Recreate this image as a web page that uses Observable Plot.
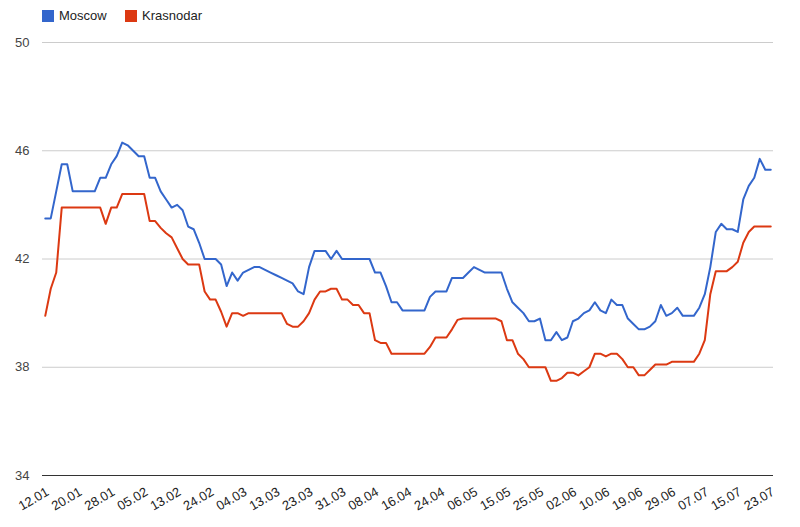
<!DOCTYPE html>
<html>
<head>
<meta charset="utf-8">
<script src="https://cdn.jsdelivr.net/npm/d3@7"></script>
<script src="https://cdn.jsdelivr.net/npm/@observablehq/plot@0.6"></script>
<style>
  html, body { margin: 0; padding: 0; background: #fff; }
  #wrap { width: 800px; font-family: Arial, "Liberation Sans", sans-serif; }
  #legend { position: relative; height: 32px; font-size: 13px; color: #222; }
  .sw { position: absolute; top: 10px; width: 12px; height: 12px; }
  .lt { position: absolute; top: 8px; line-height: 15px; }
</style>
</head>
<body>
<div id="wrap">
  <div id="legend">
    <div class="sw" style="left:42px;background:#3366cc"></div><div class="lt" style="left:59px">Moscow</div>
    <div class="sw" style="left:125px;background:#dc3912"></div><div class="lt" style="left:142px">Krasnodar</div>
  </div>
  <div id="chart"></div>
</div>
<script>
const seriesNames = ["Moscow", "Krasnodar"];
const seriesColors = ["#3366cc", "#dc3912"];
const tickLabels = ["12.01","20.01","28.01","05.02","13.02","24.02","04.03","13.03","23.03","31.03","08.04","16.04","24.04","06.05","15.05","25.05","02.06","10.06","19.06","29.06","07.07","15.07","23.07"];
const yTicks = [34, 38, 42, 46, 50];

const moscow = [
  43.5, 43.5, 44.5, 45.5, 45.5, 44.5, 44.5, 44.5, 44.5, 44.5,
  45.0, 45.0, 45.5, 45.8, 46.3, 46.2, 46.0, 45.8, 45.8, 45.0,
  45.0, 44.5, 44.2, 43.9, 44.0, 43.8, 43.2, 43.1, 42.6, 42.0,
  42.0, 42.0, 41.8, 41.0, 41.5, 41.2, 41.5, 41.6, 41.7, 41.7,
  41.6, 41.5, 41.4, 41.3, 41.2, 41.1, 40.8, 40.7, 41.7, 42.3,
  42.3, 42.3, 42.0, 42.3, 42.0, 42.0, 42.0, 42.0, 42.0, 42.0,
  41.5, 41.5, 41.0, 40.4, 40.4, 40.1, 40.1, 40.1, 40.1, 40.1,
  40.6, 40.8, 40.8, 40.8, 41.3, 41.3, 41.3, 41.5, 41.7, 41.6,
  41.5, 41.5, 41.5, 41.5, 40.9, 40.4, 40.2, 40.0, 39.7, 39.7,
  39.8, 39.0, 39.0, 39.3, 39.0, 39.1, 39.7, 39.8, 40.0, 40.1,
  40.4, 40.1, 40.0, 40.5, 40.3, 40.3, 39.8, 39.6, 39.4, 39.4,
  39.5, 39.7, 40.3, 39.9, 40.0, 40.2, 39.9, 39.9, 39.9, 40.2,
  40.7, 41.7, 43.0, 43.3, 43.1, 43.1, 43.0, 44.2, 44.7, 45.0,
  45.7, 45.3, 45.3
];

const krasnodar = [
  39.9, 40.9, 41.5, 43.9, 43.9, 43.9, 43.9, 43.9, 43.9, 43.9,
  43.9, 43.3, 43.9, 43.9, 44.4, 44.4, 44.4, 44.4, 44.4, 43.4,
  43.4, 43.15, 42.95, 42.8, 42.4, 42.0, 41.8, 41.8, 41.8, 40.8,
  40.5, 40.5, 40.05, 39.5, 40.0, 40.0, 39.9, 40.0, 40.0, 40.0,
  40.0, 40.0, 40.0, 40.0, 39.6, 39.5, 39.5, 39.7, 40.0, 40.5,
  40.8, 40.8, 40.9, 40.9, 40.5, 40.5, 40.3, 40.3, 40.0, 40.0,
  39.0, 38.9, 38.9, 38.5, 38.5, 38.5, 38.5, 38.5, 38.5, 38.5,
  38.75, 39.1, 39.1, 39.1, 39.4, 39.75, 39.8, 39.8, 39.8, 39.8,
  39.8, 39.8, 39.8, 39.7, 39.0, 39.0, 38.5, 38.3, 38.0, 38.0,
  38.0, 38.0, 37.5, 37.5, 37.6, 37.8, 37.8, 37.7, 37.85, 38.0,
  38.5, 38.5, 38.4, 38.5, 38.5, 38.3, 38.0, 38.0, 37.7, 37.7,
  37.9, 38.1, 38.1, 38.1, 38.2, 38.2, 38.2, 38.2, 38.2, 38.5,
  39.0, 40.7, 41.55, 41.55, 41.55, 41.7, 41.9, 42.6, 43.0, 43.2,
  43.2, 43.2, 43.2
];

const labelEvery = 6;
const rows = [];
[moscow, krasnodar].forEach((arr, s) => arr.forEach((v, i) => rows.push({i, v, series: seriesNames[s]})));
const labelRows = tickLabels.map((t, k) => ({i: k * labelEvery, t}));

const font = 'Arial, "Liberation Sans", sans-serif';
const chart = Plot.plot({
  width: 800,
  height: 495,
  marginTop: 10,
  marginBottom: 52,
  marginLeft: 42,
  marginRight: 27,
  style: {fontFamily: font, fontSize: "13px", background: "#fff", overflow: "visible"},
  x: {domain: [-0.5, moscow.length - 0.5], axis: null},
  y: {domain: [34, 50], axis: null},
  color: {domain: seriesNames, range: seriesColors},
  marks: [
    Plot.ruleY(yTicks.filter(d => d !== 34), {stroke: "#cccccc", strokeWidth: 1}),
    Plot.ruleY([34], {stroke: "#333333", strokeWidth: 1}),
    Plot.line(rows, {x: "i", y: "v", z: "series", stroke: "series", strokeWidth: 2, strokeLinejoin: "round"}),
    Plot.text(yTicks, {y: d => d, frameAnchor: "left", dx: -13, textAnchor: "end", text: d => String(d), fill: "#444", fontSize: 13}),
    Plot.text(labelRows, {x: "i", frameAnchor: "bottom", dy: 11, rotate: -30, textAnchor: "end", lineAnchor: "top", text: "t", fill: "#222", fontSize: 13})
  ]
});
document.getElementById("chart").appendChild(chart);
</script>
</body>
</html>
